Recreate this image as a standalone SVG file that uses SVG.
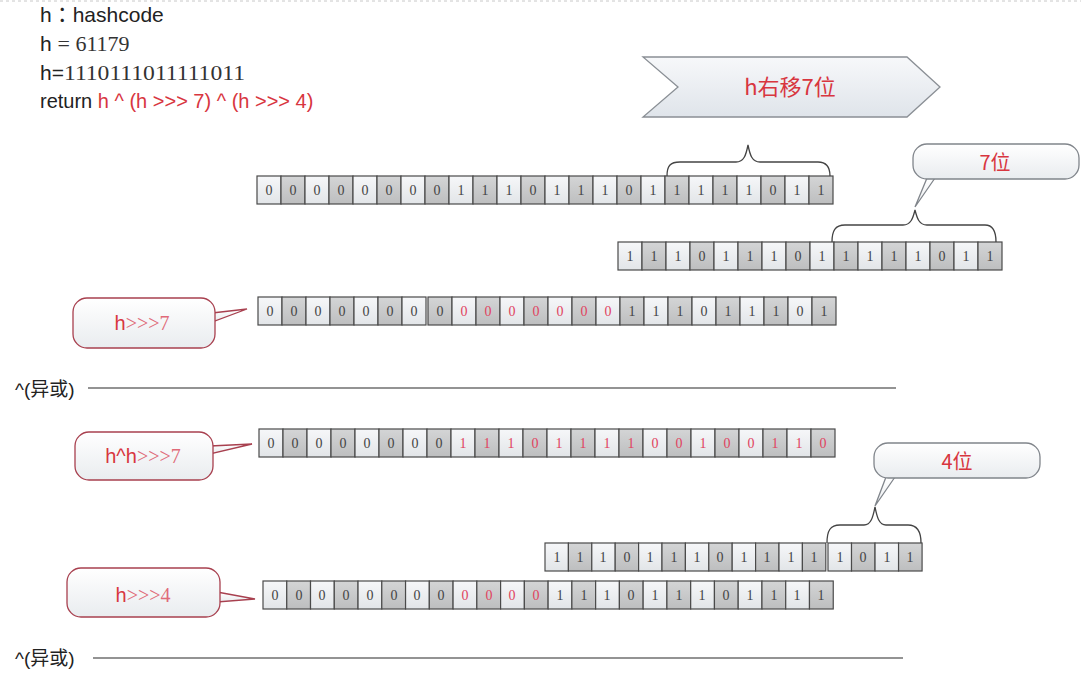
<svg xmlns="http://www.w3.org/2000/svg" xmlns:xlink="http://www.w3.org/1999/xlink" width="1081" height="680" viewBox="0 0 1081 680">
<defs>
<linearGradient id="gl" x1="0" y1="0" x2="0" y2="1"><stop offset="0" stop-color="#f6f7f9"/><stop offset="1" stop-color="#e2e5e8"/></linearGradient>
<linearGradient id="gd" x1="0" y1="0" x2="0" y2="1"><stop offset="0" stop-color="#d4d5d6"/><stop offset="1" stop-color="#bdbebf"/></linearGradient>
<linearGradient id="gc" x1="0" y1="0" x2="0" y2="1"><stop offset="0" stop-color="#ffffff"/><stop offset="1" stop-color="#e9ecef"/></linearGradient>
<linearGradient id="ga" x1="0" y1="0" x2="0" y2="1"><stop offset="0" stop-color="#f7f8fa"/><stop offset="1" stop-color="#dfe4ea"/></linearGradient>
<g id="p"><rect class="cl" x="0" y="0" width="24" height="28"/><rect class="cd" x="24" y="0" width="24" height="28"/></g>
<g id="p4"><use xlink:href="#p"/><use xlink:href="#p" x="48"/></g>
<g id="p8"><use xlink:href="#p4"/><use xlink:href="#p4" x="96"/></g>
<g id="p16"><use xlink:href="#p8"/><use xlink:href="#p8" x="192"/></g>
<style>
.cl{fill:url(#gl);stroke:#4a4a4a;stroke-width:1.2}
.cd{fill:url(#gd);stroke:#4a4a4a;stroke-width:1.2}
.t{font-family:"Liberation Serif","DejaVu Serif",serif;font-size:14px;fill:#444444;text-anchor:middle}
.r{fill:#e0435e}
.sans{font-family:"Liberation Sans","Noto Sans CJK SC",sans-serif;fill:#222}
.ser{font-family:"Liberation Serif","Noto Sans CJK SC",serif}
.red{fill:#d8363f}
.brace{fill:none;stroke:#444;stroke-width:1.3}
.cr{fill:url(#gc);stroke:#a8404f;stroke-width:1.3}
.cg{fill:url(#gc);stroke:#80858b;stroke-width:1.3}
.cjk{font-family:"Noto Sans CJK SC","Liberation Sans",sans-serif;fill:#d8363f;text-anchor:middle}
.sep{stroke:#6f6f6f;stroke-width:1.5}
</style>
</defs>
<rect width="1081" height="680" fill="#ffffff"/>
<line x1="0" y1="1" x2="1081" y2="1" stroke="#c8c8c8" stroke-width="1" stroke-dasharray="3 3"/>

<g id="header">
<text class="sans" x="40" y="22" font-size="21">h<tspan font-family="Noto Sans CJK TC, sans-serif">：</tspan>hashcode</text>
<text class="sans" x="40" y="51" font-size="21">h <tspan class="ser" font-size="22" fill="#333">= 61179</tspan></text>
<text class="sans" x="40" y="80" font-size="21">h=<tspan class="ser" font-size="22" fill="#333" textLength="181" lengthAdjust="spacingAndGlyphs">1110111011111011</tspan></text>
<text class="sans" x="40" y="108" font-size="20">return <tspan class="red">h ^ (h &gt;&gt;&gt; 7) ^ (h &gt;&gt;&gt; 4)</tspan></text>
</g>

<g id="shift-arrow">
<polygon points="643,57 907,57 940,87 907,117 643,117 678,87" fill="url(#ga)" stroke="#8a8f95" stroke-width="1.3"/>
<text class="cjk" x="790" y="95" font-size="22">h右移7位</text>
</g>

<g id="row-h" transform="translate(257,176)">
<use xlink:href="#p16"/><use xlink:href="#p8" x="384"/>
<text class="t" y="19" x="12 36 60 84 108 132 156 180 204 228 252 276 300 324 348 372 396 420 444 468 492 516 540 564">000000001110111011111011</text>
</g>

<g id="row-h-shifted" transform="translate(618,242)">
<use xlink:href="#p16"/>
<text class="t" y="19" x="12 36 60 84 108 132 156 180 204 228 252 276 300 324 348 372">1110111011111011</text>
</g>

<g id="row-h-ushr7" transform="translate(258,297)">
<rect class="cl" x="0" y="0" width="24" height="28"/><rect class="cd" x="24" y="0" width="24" height="28"/>
<rect class="cl" x="48" y="0" width="24" height="28"/><rect class="cd" x="72" y="0" width="24" height="28"/>
<rect class="cl" x="96" y="0" width="24" height="28"/><rect class="cd" x="120" y="0" width="24" height="28"/>
<rect class="cl" x="144" y="0" width="24" height="28"/>
<g transform="translate(170,0)">
<rect class="cd" x="0" y="0" width="24" height="28"/>
<use xlink:href="#p8" x="24"/><use xlink:href="#p8" x="216"/>
</g>
<text class="t" y="19"><tspan x="12 36 60 84 108 132 156 182">00000000</tspan><tspan class="r" x="206 230 254 278 302 326 350">0000000</tspan><tspan x="374 398 422 446 470 494 518 542 566">111011101</tspan></text>
</g>

<g id="row-xor7" transform="translate(259,429)">
<use xlink:href="#p16"/><use xlink:href="#p8" x="384"/>
<text class="t" y="19"><tspan x="12 36 60 84 108 132 156 180">00000000</tspan><tspan class="r" x="204 228 252 276 300 324 348 372 396 420 444 468 492 516 540 564">1110111100100110</tspan></text>
</g>

<g id="row-h-shifted4">
<g transform="translate(545,543) scale(0.975,1)"><use xlink:href="#p8"/><use xlink:href="#p4" x="192"/></g>
<g transform="translate(828,543) scale(0.98,1)"><use xlink:href="#p4"/></g>
<text class="t" y="562" x="557 580 603 627 650 674 697 720 744 767 791 814 840 863 887 910">1110111011111011</text>
</g>

<g id="row-h-ushr4">
<g transform="translate(263,581) scale(0.99,1)"><use xlink:href="#p16"/><use xlink:href="#p8" x="384"/></g>
<text class="t" y="600"><tspan x="275 299 322 346 370 394 417 441">00000000</tspan><tspan class="r" x="465 489 512 536">0000</tspan><tspan x="560 584 607 631 655 679 702 726 750 774 797 821">111011101111</tspan></text>
</g>

<g id="braces">
<path class="brace" d="M667,176 C667,166 670,162 680,162 L736,162 C744,162 746,155 748,145 C750,155 752,162 760,162 L818,162 C826,162 830,166 830,176"/>
<path class="brace" d="M832,242 C832,231 835,225 845,225 L903,225 C911,225 913,218 915,210 C917,218 919,225 927,225 L985,225 C993,225 996,231 996,242"/>
<path class="brace" d="M827,543 C827,531 830,525 840,525 L864,525 C871,525 873,517 875,507 C877,517 879,525 886,525 L908,525 C916,525 921,531 921,543"/>
</g>

<g id="callout-7bits">
<path class="cg" d="M927,178 L915,207 L935,178 Z"/>
<rect class="cg" x="913" y="144" width="166" height="35" rx="14"/>
<text class="cjk" x="995" y="170" font-size="20">7位</text>
</g>

<g id="callout-4bits">
<path class="cg" d="M886,477 L875,506 L895,477 Z"/>
<rect class="cg" x="874" y="443" width="166" height="35" rx="14"/>
<text class="cjk" x="957" y="469" font-size="20">4位</text>
</g>

<g id="callout-ushr7">
<path class="cr" d="M212,313 L247,309 L212,322 Z"/>
<rect class="cr" x="73" y="298" width="142" height="50" rx="14"/>
<text x="142" y="330" text-anchor="middle" font-size="20"><tspan font-family="Liberation Sans, sans-serif" fill="#d8363f">h</tspan><tspan font-family="Liberation Serif, serif" fill="#e06a78">&gt;&gt;&gt;7</tspan></text>
</g>

<g id="callout-xor7">
<path class="cr" d="M210,446 L252,444 L210,454 Z"/>
<rect class="cr" x="75" y="432" width="138" height="48" rx="14"/>
<text x="143" y="463" text-anchor="middle" font-size="20"><tspan font-family="Liberation Sans, sans-serif" fill="#d8363f">h^h</tspan><tspan font-family="Liberation Serif, serif" fill="#e06a78">&gt;&gt;&gt;7</tspan></text>
</g>

<g id="callout-ushr4">
<path class="cr" d="M217,592 L255,599 L217,602 Z"/>
<rect class="cr" x="67" y="568" width="153" height="49" rx="14"/>
<text x="143" y="602" text-anchor="middle" font-size="20"><tspan font-family="Liberation Sans, sans-serif" fill="#d8363f">h</tspan><tspan font-family="Liberation Serif, serif" fill="#e06a78">&gt;&gt;&gt;4</tspan></text>
</g>

<g id="xor-1">
<text class="sans" x="15" y="396" font-size="19">^(异或)</text>
<line class="sep" x1="88" y1="388" x2="896" y2="388"/>
</g>
<g id="xor-2">
<text class="sans" x="15" y="665" font-size="19">^(异或)</text>
<line class="sep" x1="93" y1="658" x2="903" y2="658"/>
</g>
</svg>
